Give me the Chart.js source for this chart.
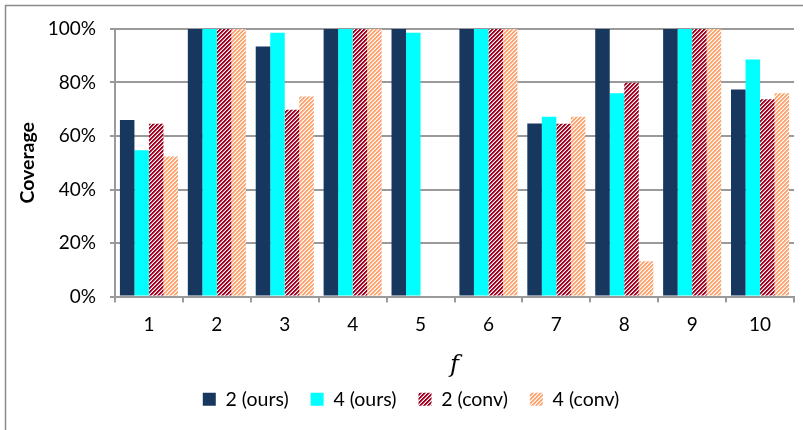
<!DOCTYPE html>
<html>
<head>
<meta charset="utf-8">
<script src="https://cdn.jsdelivr.net/npm/chart.js@4.4.1/dist/chart.umd.min.js"></script>
<style>
  html, body { margin: 0; padding: 0; background: #ffffff; }
  #wrap { width: 803px; height: 430px; position: relative; }
</style>
</head>
<body>
<div id="wrap"><canvas id="c" width="803" height="430"></canvas></div>
<script>
// Coverage per f value, in percent
const categories = ['1', '2', '3', '4', '5', '6', '7', '8', '9', '10'];
const ours2 = [66.0, 100, 93.5, 100, 100, 100, 64.7, 100, 100, 77.4];
const ours4 = [54.7, 100, 98.6, 100, 98.6, 100, 67.2, 76.0, 100, 88.6];
const conv2 = [64.6, 100, 69.8, 100, 0, 100, 64.6, 79.9, 100, 73.7];
const conv4 = [52.3, 100, 74.8, 100, 0, 100, 67.2, 13.2, 100, 76.0];
const yTicks = [0, 20, 40, 60, 80, 100];

const canvas = document.getElementById('c');
const ctx = canvas.getContext('2d');

// Upward diagonal hatch: two solid pixels, one half-tone pixel, one white per period
function hatch(color, mid) {
  const t = document.createElement('canvas');
  t.width = 4; t.height = 4;
  const g = t.getContext('2d');
  g.fillStyle = '#ffffff';
  g.fillRect(0, 0, 4, 4);
  for (let y = 0; y < 4; y++) {
    for (let x = 0; x < 4; x++) {
      const k = (x + y) % 4;
      if (k < 2) { g.fillStyle = color; g.fillRect(x, y, 1, 1); }
      else if (k === 2) { g.fillStyle = mid; g.fillRect(x, y, 1, 1); }
    }
  }
  return ctx.createPattern(t, 'repeat');
}

const gridGray = '#9a9a9a';
const uiFont = 'Lato, "Open Sans", sans-serif';

// Thin frame around the chart
const framePlugin = {
  id: 'frame',
  beforeDraw(chart) {
    const c = chart.ctx;
    c.save();
    c.fillStyle = '#ffffff';
    c.fillRect(0, 0, chart.width, chart.height);
    c.strokeStyle = '#8a8a8a';
    c.lineWidth = 1.5;
    c.strokeRect(5.5, 5.5, chart.width + 20, chart.height + 20);
    c.restore();
  }
};

new Chart(canvas, {
  type: 'bar',
  data: {
    labels: categories,
    datasets: [
      { label: '2 (ours)', data: ours2, backgroundColor: '#17375E' },
      { label: '4 (ours)', data: ours4, backgroundColor: '#00FFFF' },
      { label: '2 (conv)', data: conv2, backgroundColor: hatch('#A50021', '#D27F90') },
      { label: '4 (conv)', data: conv4, backgroundColor: hatch('#FFA46E', '#FFD1B6') }
    ]
  },
  options: {
    responsive: false,
    animation: false,
    devicePixelRatio: 1,
    layout: { padding: { left: 28, top: 29, right: 9, bottom: 11 } },
    datasets: {
      bar: { categoryPercentage: 0.855, barPercentage: 1.0, borderWidth: 0 }
    },
    plugins: {
      tooltip: { enabled: false },
      legend: {
        position: 'bottom',
        labels: {
          boxWidth: 13,
          boxHeight: 13,
          padding: 22,
          color: '#000000',
          font: { family: uiFont, size: 19.5 }
        }
      }
    },
    scales: {
      x: {
        grid: {
          display: true,
          drawOnChartArea: false,
          offset: true,
          drawTicks: true,
          tickLength: 6,
          color: gridGray,
          lineWidth: 2
        },
        border: { display: true, color: gridGray, width: 2 },
        ticks: {
          color: '#000000',
          padding: 11,
          maxRotation: 0,
          font: { family: uiFont, size: 19 }
        },
        title: {
          display: true,
          text: 'f',
          color: '#000000',
          padding: { top: 0, bottom: -10 },
          font: { family: '"DejaVu Serif", "Liberation Serif", serif', size: 24, style: 'italic', lineHeight: 1 }
        },
        afterFit(scale) { scale.height = 71; }
      },
      y: {
        min: 0,
        max: 100,
        afterBuildTicks(scale) { scale.ticks = yTicks.map(v => ({ value: v })); },
        grid: {
          display: true,
          drawTicks: true,
          tickLength: 5,
          color: gridGray,
          lineWidth: 2
        },
        border: { display: true, color: gridGray, width: 2 },
        ticks: {
          color: '#000000',
          padding: 14,
          font: { family: uiFont, size: 19 },
          callback: v => v + '%'
        },
        title: {
          display: true,
          text: 'Coverage',
          color: '#000000',
          padding: { top: -12, bottom: 0 },
          font: { family: uiFont, size: 19.5, weight: 'bold' }
        },
        afterFit(scale) { scale.width = 87; }
      }
    }
  },
  plugins: [framePlugin]
});
</script>
</body>
</html>
